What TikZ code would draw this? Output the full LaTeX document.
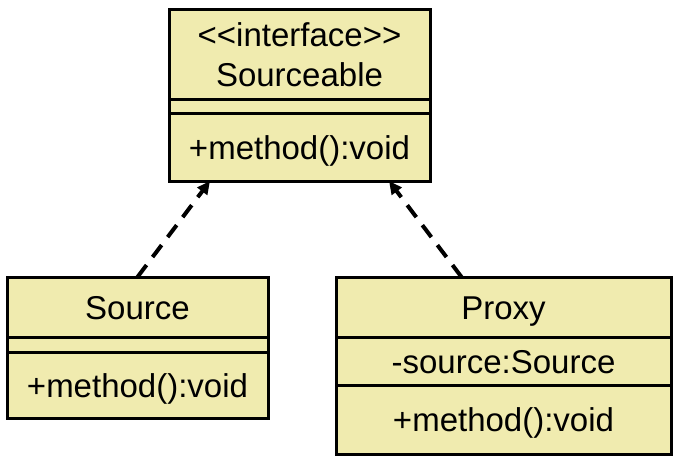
\documentclass[tikz,border=0pt]{standalone}
\usepackage{fontspec}
\setmainfont{Liberation Sans}[Ligatures=TeXOff]
\usepackage{tikz}
\usetikzlibrary{arrows.meta}
\definecolor{umlfill}{RGB}{240,235,175}

\begin{document}
\begin{tikzpicture}[x=1pt,y=-1pt,
	part/.style={draw,line width=3pt,fill=umlfill,minimum width=#1,inner sep=0pt,outer sep=0pt,
		font=\fontsize{33}{40}\selectfont,align=center,text height=30pt,text depth=6pt},
	realize/.style={-{Triangle[length=13pt,width=12pt]},line width=4pt,dash pattern=on 15pt off 10pt}]
	\useasboundingbox (0,0) rectangle (679,463);
	% interface
	\node[part=261pt,minimum height=90pt,text height=70pt] at (299.5,54) (ihead) {<<interface>>\\Sourceable};
	\node[part=261pt,minimum height=14pt,text height=0pt,text depth=0pt] at (299.5,106) (iattr) {};
	\node[part=261pt,minimum height=68pt] at (299.5,147) (iops) {+method():void};
	% Source
	\node[part=261pt,minimum height=60pt] at (137.5,307) (shead) {Source};
	\node[part=261pt,minimum height=15pt,text height=0pt,text depth=0pt] at (137.5,344.5) (sattr) {};
	\node[part=261pt,minimum height=66pt] at (137.5,385) (sops) {+method():void};
	% Proxy
	\node[part=335pt,minimum height=60pt] at (503.5,307) (phead) {Proxy};
	\node[part=335pt,minimum height=48pt] at (503.5,361) (pattr) {-source:Source};
	\node[part=335pt,minimum height=69pt] at (503.5,419.5) (pops) {+method():void};
	\path[realize] (shead.north) edge ([xshift=41pt]iops.south west);
	\path[realize] ([xshift=-42pt]phead.north) edge ([xshift=-41pt]iops.south east);
\end{tikzpicture}
\end{document}
